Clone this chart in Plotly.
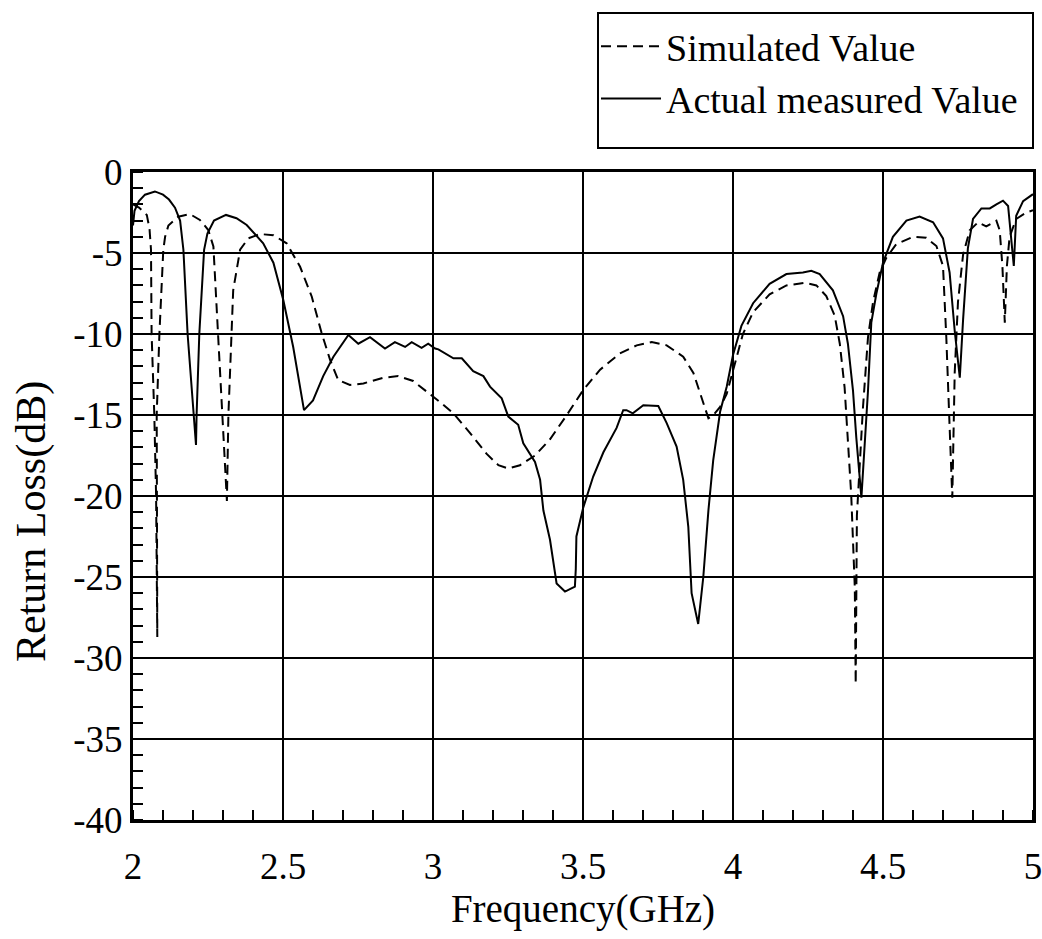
import plotly.graph_objects as go

# Measured (solid) curve
freq_meas = [2.000, 2.005, 2.02, 2.04, 2.073, 2.10, 2.12, 2.14, 2.157, 2.168, 2.182, 2.201, 2.210, 2.212,
             2.221, 2.237, 2.248, 2.27, 2.31, 2.345, 2.379, 2.434, 2.468, 2.501, 2.534, 2.570, 2.60, 2.634,
             2.668, 2.718, 2.751, 2.79, 2.84, 2.873, 2.907, 2.929, 2.962, 2.984, 3.007, 3.018, 3.068, 3.096,
             3.134, 3.168, 3.19, 3.229, 3.251, 3.284, 3.301, 3.34, 3.357, 3.368, 3.39, 3.412, 3.44, 3.473,
             3.476, 3.478, 3.501, 3.534, 3.568, 3.612, 3.634, 3.645, 3.666, 3.701, 3.751, 3.779, 3.812, 3.834,
             3.851, 3.862, 3.884, 3.901, 3.918, 3.934, 3.957, 3.979, 4.0, 4.028, 4.067, 4.122, 4.178, 4.233,
             4.261, 4.289, 4.333, 4.367, 4.383, 4.40, 4.411, 4.428, 4.439, 4.45, 4.461, 4.478, 4.5, 4.533,
             4.578, 4.622, 4.667, 4.70, 4.722, 4.739, 4.756, 4.767, 4.783, 4.80, 4.828, 4.856, 4.878, 4.90,
             4.917, 4.924, 4.936, 4.944, 4.967, 5.0]
rl_meas = [-3.3, -2.4, -1.8, -1.4, -1.2, -1.4, -1.7, -2.2, -3.0, -4.8, -10.0, -15.0, -16.85, -15.0,
           -10.0, -4.8, -3.8, -3.0, -2.65, -2.85, -3.27, -4.4, -5.6, -7.9, -10.8, -14.7, -14.1, -12.6,
           -11.4, -10.06, -10.6, -10.2, -10.9, -10.5, -10.8, -10.5, -10.85, -10.6, -10.9, -10.95, -11.5, -11.5,
           -12.3, -12.6, -13.25, -13.97, -15.1, -15.6, -16.75, -17.9, -19.0, -20.9, -22.7, -25.4, -25.9, -25.6,
           -24.5, -22.5, -20.7, -18.8, -17.3, -15.8, -14.7, -14.7, -14.9, -14.4, -14.45, -15.5, -16.95, -19.0,
           -21.9, -26.0, -27.9, -25.0, -20.9, -17.8, -14.8, -13.25, -11.3, -9.5, -8.1, -6.9, -6.3, -6.2,
           -6.1, -6.3, -7.3, -8.9, -10.6, -13.5, -16.4, -20.1, -16.8, -13.5, -9.3, -7.5, -5.6, -4.0,
           -3.0, -2.75, -3.1, -4.1, -6.2, -9.8, -12.7, -9.1, -4.7, -2.9, -2.25, -2.25, -2.0, -1.77,
           -2.1, -3.6, -5.8, -2.7, -1.8, -1.37]

# Simulated (dashed) curve
freq_sim = [2.000, 2.02, 2.046, 2.055, 2.060, 2.062, 2.071, 2.077, 2.081, 2.079, 2.088, 2.101, 2.107, 2.118,
            2.151, 2.19, 2.223, 2.251, 2.268, 2.284, 2.299, 2.312, 2.313, 2.318, 2.329, 2.334, 2.357, 2.384,
            2.423, 2.468, 2.512, 2.557, 2.596, 2.629, 2.657, 2.684, 2.723, 2.768, 2.834, 2.884, 2.934, 2.973,
            3.023, 3.068, 3.123, 3.179, 3.218, 3.251, 3.29, 3.34, 3.39, 3.446, 3.501, 3.557, 3.623, 3.679,
            3.729, 3.779, 3.834, 3.868, 3.896, 3.918, 3.935, 3.957, 3.979, 4.0, 4.033, 4.067, 4.122, 4.178,
            4.239, 4.278, 4.311, 4.339, 4.356, 4.372, 4.383, 4.394, 4.406, 4.409, 4.413, 4.422, 4.433, 4.45,
            4.467, 4.489, 4.511, 4.544, 4.6, 4.644, 4.678, 4.70, 4.711, 4.722, 4.731, 4.739, 4.75, 4.767,
            4.789, 4.817, 4.844, 4.878, 4.889, 4.898, 4.906, 4.913, 4.922, 4.944, 4.978, 5.0]
rl_sim = [-2.0, -2.2, -2.65, -3.5, -4.8, -10.0, -15.0, -20.0, -28.7, -15.0, -10.0, -4.8, -4.0, -3.3,
          -2.76, -2.6, -2.96, -3.58, -4.6, -10.0, -15.0, -19.6, -20.3, -15.0, -10.0, -7.3, -4.8, -4.1,
          -3.83, -3.9, -4.4, -5.85, -7.7, -9.96, -11.6, -12.84, -13.15, -13.05, -12.7, -12.6, -12.9, -13.45,
          -14.2, -14.9, -16.1, -17.4, -18.1, -18.3, -18.1, -17.5, -16.5, -15.0, -13.45, -12.2, -11.2, -10.7,
          -10.5, -10.7, -11.4, -12.4, -13.9, -15.2, -15.0, -14.5, -13.7, -12.2, -10.0, -8.65, -7.55, -7.0,
          -6.84, -7.0, -7.66, -8.87, -10.6, -13.3, -16.8, -19.9, -25.65, -31.6, -21.2, -17.9, -14.6, -10.2,
          -8.0, -6.2, -5.3, -4.46, -4.0, -4.06, -4.57, -5.8, -10.2, -15.7, -20.1, -12.4, -8.0, -5.1,
          -3.6, -3.1, -3.36, -3.0, -3.6, -5.8, -9.3, -5.8, -4.0, -2.9, -2.5, -2.36]

x_tickvals = [2, 2.5, 3, 3.5, 4, 4.5, 5]
x_ticktext = ["2", "2.5", "3", "3.5", "4", "4.5", "5"]
y_tickvals = [0, -5, -10, -15, -20, -25, -30, -35, -40]
y_ticktext = ["0", "-5", "-10", "-15", "-20", "-25", "-30", "-35", "-40"]

FONT = "Liberation Serif"

# figure geometry in page pixels; plot area 900 x 648 px
ML, MR, MT, MB = 133, 9, 172, 119
PW, PH = 900, 648

def px_to_paper_x(xf):
    return (xf - ML) / PW

def px_to_paper_y(yf):
    return (MT + PH - yf) / PH

fig = go.Figure()
fig.add_trace(go.Scatter(x=freq_sim, y=rl_sim, mode="lines", name="Simulated Value",
                         line=dict(color="black", width=2, dash="10px,6px")))
fig.add_trace(go.Scatter(x=freq_meas, y=rl_meas, mode="lines", name="Actual measured Value",
                         line=dict(color="black", width=2)))

fig.update_layout(
    template="none",
    width=ML + PW + MR, height=MT + PH + MB,
    margin=dict(l=ML, r=MR, t=MT, b=MB, pad=0, autoexpand=False),
    paper_bgcolor="white", plot_bgcolor="white",
    font=dict(family=FONT, size=37, color="black"),
    showlegend=True,
    legend=dict(x=px_to_paper_x(596), xanchor="left", y=px_to_paper_y(15), yanchor="top",
                borderwidth=0, bgcolor="rgba(0,0,0,0)",
                font=dict(family=FONT, size=38, color="black"),
                itemwidth=60, tracegroupgap=0),
    shapes=[dict(type="rect", xref="paper", yref="paper",
                 x0=px_to_paper_x(598), x1=px_to_paper_x(1033),
                 y0=px_to_paper_y(148), y1=px_to_paper_y(13),
                 line=dict(color="black", width=2), fillcolor="rgba(0,0,0,0)", layer="above")],
    annotations=[dict(text="Return Loss(dB)", xref="paper", yref="paper",
                      x=px_to_paper_x(31), y=px_to_paper_y(522), xanchor="center", yanchor="middle",
                      textangle=-90, showarrow=False,
                      font=dict(family=FONT, size=42, color="black"))],
)
fig.update_xaxes(
    range=[2, 5], tickvals=x_tickvals, ticktext=x_ticktext, automargin=False,
    ticklabeloverflow="allow",
    showgrid=True, gridcolor="black", gridwidth=2,
    showline=True, linecolor="black", linewidth=3, mirror=True,
    ticks="", ticklabelstandoff=12, zeroline=False,
    minor=dict(dtick=0.1, tick0=2, ticks="inside", ticklen=10, tickwidth=2, tickcolor="black", showgrid=False),
    title=dict(text="Frequency(GHz)", font=dict(family=FONT, size=39), standoff=6),
)
fig.update_yaxes(
    range=[-40, 0], tickvals=y_tickvals, ticktext=y_ticktext, automargin=False,
    ticklabeloverflow="allow",
    showgrid=True, gridcolor="black", gridwidth=2,
    showline=True, linecolor="black", linewidth=3, mirror=True,
    ticks="", ticklabelstandoff=0, zeroline=False,
    minor=dict(dtick=1, tick0=0, ticks="inside", ticklen=10, tickwidth=2, tickcolor="black", showgrid=False),
)

# remove the browser's default 8px body margin so the figure fills the 1042x939 window exactly
fig.write_html("out.html", config={"displayModeBar": False},
               post_script="document.body.style.margin='0px';")
